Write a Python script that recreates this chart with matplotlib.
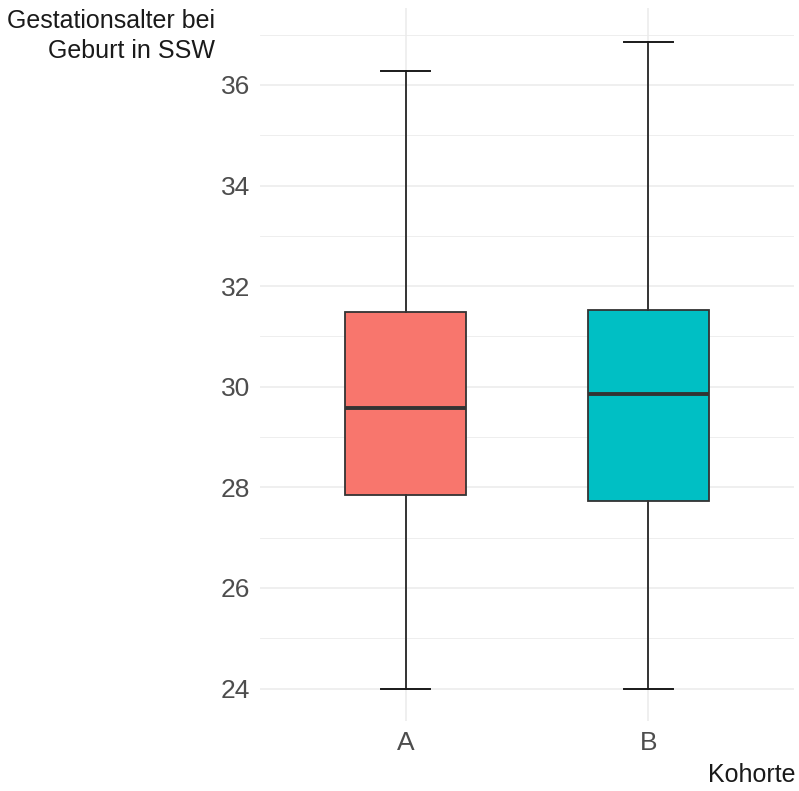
import matplotlib
matplotlib.use("Agg")
import matplotlib.pyplot as plt
from matplotlib.ticker import MultipleLocator

plt.rcParams['font.family'] = ['Liberation Sans', 'DejaVu Sans']

categories = ["A", "B"]
whislo = [24.0, 24.0]
q1 = [27.85, 27.72]
med = [29.57, 29.85]
q3 = [31.49, 31.53]
whishi = [36.28, 36.86]
colors = ["#F8766D", "#00BFC4"]
y_ticks = [24, 26, 28, 30, 32, 34, 36]

fig = plt.figure(figsize=(7.99, 7.91), dpi=100)
ax = fig.add_axes([0.3254, 0.0885, 0.6683, 0.9008])

stats = []
for i, c in enumerate(categories):
    stats.append(dict(label=c, whislo=whislo[i], q1=q1[i], med=med[i],
                      q3=q3[i], whishi=whishi[i], fliers=[]))
pos = list(range(1, len(categories) + 1))
bp = ax.bxp(stats, positions=pos, widths=0.5, capwidths=0.2, patch_artist=True,
            showfliers=False,
            boxprops=dict(edgecolor="#333333", linewidth=1.3),
            medianprops=dict(color="#333333", linewidth=2.8, solid_capstyle="butt"),
            whiskerprops=dict(color="#333333", linewidth=1.4),
            capprops=dict(color="#1A1A1A", linewidth=1.4),
            zorder=3)
for patch, col in zip(bp['boxes'], colors):
    patch.set_facecolor(col)

ax.set_xlim(0.4, 2.6)
ax.set_ylim(23.356, 37.52)
ax.set_yticks(y_ticks)
ax.yaxis.set_minor_locator(MultipleLocator(1))
ax.set_xticks(pos)
ax.set_xticklabels(categories)

ax.grid(True, which="major", color="#EBEBEB", linewidth=1.1, zorder=0)
ax.grid(True, which="minor", axis="y", color="#EBEBEB", linewidth=0.6, zorder=0)
ax.set_axisbelow(True)
for s in ax.spines.values():
    s.set_visible(False)
ax.tick_params(axis="both", which="both", length=0, labelsize=19, labelcolor="#4D4D4D")
ax.tick_params(axis="y", pad=7)
ax.tick_params(axis="x", pad=7)

fig.text(215/799, 1 - 9/791, "Gestationsalter bei\nGeburt in SSW", ha="right", va="top",
         fontsize=18, color="#1A1A1A", linespacing=1.3)
fig.text(795/799, 1 - 775/791, "Kohorte", ha="right", va="center",
         fontsize=18, color="#1A1A1A")

fig.savefig("out.png", dpi=100)
